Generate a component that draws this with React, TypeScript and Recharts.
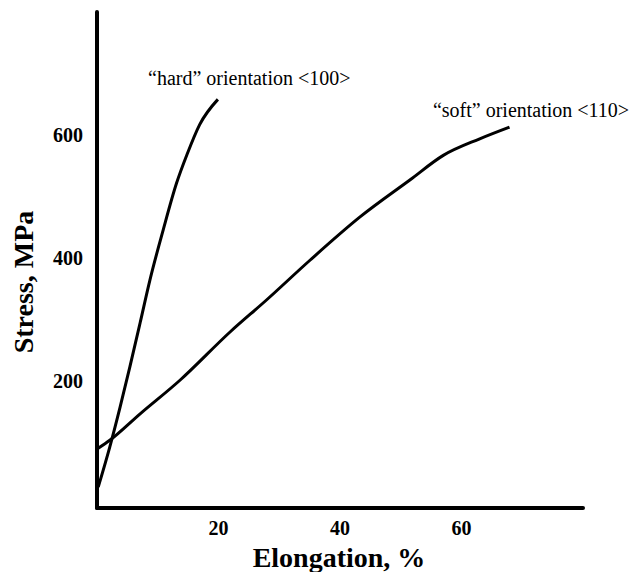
import { LineChart, Line, XAxis, YAxis, ReferenceDot } from 'recharts'

// curves: [elongation %, stress MPa]
const hardX = [0.2, 2.1, 3.8, 5.4, 7.1, 8.7, 10.9, 13.1, 14.8, 16.9, 19.9]
const hardY = [28, 93, 158, 223, 295, 364, 446, 522, 568, 617, 658]
const softX = [0.2, 2.1, 7.1, 13.7, 21.9, 27.9, 35.1, 43.3, 51.5, 57, 63, 67.9]
const softY = [91, 104, 147, 202, 280, 332, 397, 467, 527, 567, 594, 613]

const xTicks = [20, 40, 60]
const yTicks = [200, 400, 600]

const X_DOMAIN: [number, number] = [0, 80]
const Y_DOMAIN: [number, number] = [-6, 800]

const hardData = hardX.map((x, i) => ({ x, y: hardY[i] }))
const softData = softX.map((x, i) => ({ x, y: softY[i] }))

const serif = '"Liberation Serif", "Times New Roman", serif'

function YTick(props: any) {
  const { x, y, payload } = props
  return (
    <text x={x} y={y} dy={7} textAnchor="end" fontFamily={serif} fontWeight="bold" fontSize={20} fill="#000">
      {payload.value}
    </text>
  )
}

function XTick(props: any) {
  const { x, y, payload } = props
  return (
    <text x={x} y={y} dy={27} textAnchor="middle" fontFamily={serif} fontWeight="bold" fontSize={20} fill="#000">
      {payload.value}
    </text>
  )
}

function Note(text: string) {
  return (props: any) => {
    const { viewBox } = props
    const cx = viewBox.x + viewBox.width / 2
    const cy = viewBox.y + viewBox.height / 2
    return (
      <text x={cx} y={cy} textAnchor="start" fontFamily={serif} fontSize={20} fill="#000">
        {text}
      </text>
    )
  }
}

export default function App() {
  return (
    <div style={{ position: 'absolute', left: 0, top: 0, width: 634, height: 572, background: '#fff' }}>
      <LineChart width={634} height={572} margin={{ top: 12, right: 51, bottom: 0, left: 0 }}>
        <XAxis
          type="number"
          dataKey="x"
          domain={X_DOMAIN}
          ticks={xTicks}
          allowDataOverflow
          axisLine={{ stroke: '#000', strokeWidth: 4, strokeLinecap: 'round' }}
          tickLine={false}
          tickSize={0}
          tickMargin={0}
          tick={<XTick />}
          height={64}
          label={() => (
            <text x={339} y={567} textAnchor="middle" fontFamily={serif} fontWeight="bold" fontSize={28} fill="#000">
              Elongation, %
            </text>
          )}
        />
        {/* mirrored twins that only draw the inward tick marks */}
        <XAxis
          xAxisId="marks"
          type="number"
          dataKey="x"
          domain={X_DOMAIN}
          ticks={xTicks}
          allowDataOverflow
          mirror
          height={0}
          axisLine={false}
          tick={false}
          tickLine={{ stroke: '#000', strokeWidth: 3 }}
          tickSize={9}
        />
        <YAxis
          type="number"
          dataKey="y"
          domain={Y_DOMAIN}
          ticks={yTicks}
          allowDataOverflow
          axisLine={{ stroke: '#000', strokeWidth: 4, strokeLinecap: 'round' }}
          tickLine={false}
          tickSize={0}
          tickMargin={14}
          tick={<YTick />}
          width={97}
          label={() => (
            <text
              x={33}
              y={282}
              transform="rotate(-90 33 282)"
              textAnchor="middle"
              fontFamily={serif}
              fontWeight="bold"
              fontSize={28}
              fill="#000"
            >
              Stress, MPa
            </text>
          )}
        />
        <YAxis
          yAxisId="marks"
          type="number"
          dataKey="y"
          domain={Y_DOMAIN}
          ticks={yTicks}
          allowDataOverflow
          mirror
          width={0}
          axisLine={false}
          tick={false}
          tickLine={{ stroke: '#000', strokeWidth: 3 }}
          tickSize={10}
        />
        <Line
          data={hardData}
          dataKey="y"
          type="monotone"
          stroke="#000"
          strokeWidth={3}
          dot={false}
          isAnimationActive={false}
        />
        <Line
          data={softData}
          dataKey="y"
          type="monotone"
          stroke="#000"
          strokeWidth={3}
          dot={false}
          isAnimationActive={false}
        />
        <ReferenceDot x={8.4} y={681} r={0} stroke="none" label={Note('\u201chard\u201d orientation <100>')} />
        <ReferenceDot x={55.3} y={629} r={0} stroke="none" label={Note('\u201csoft\u201d orientation <110>')} />
      </LineChart>
    </div>
  )
}
